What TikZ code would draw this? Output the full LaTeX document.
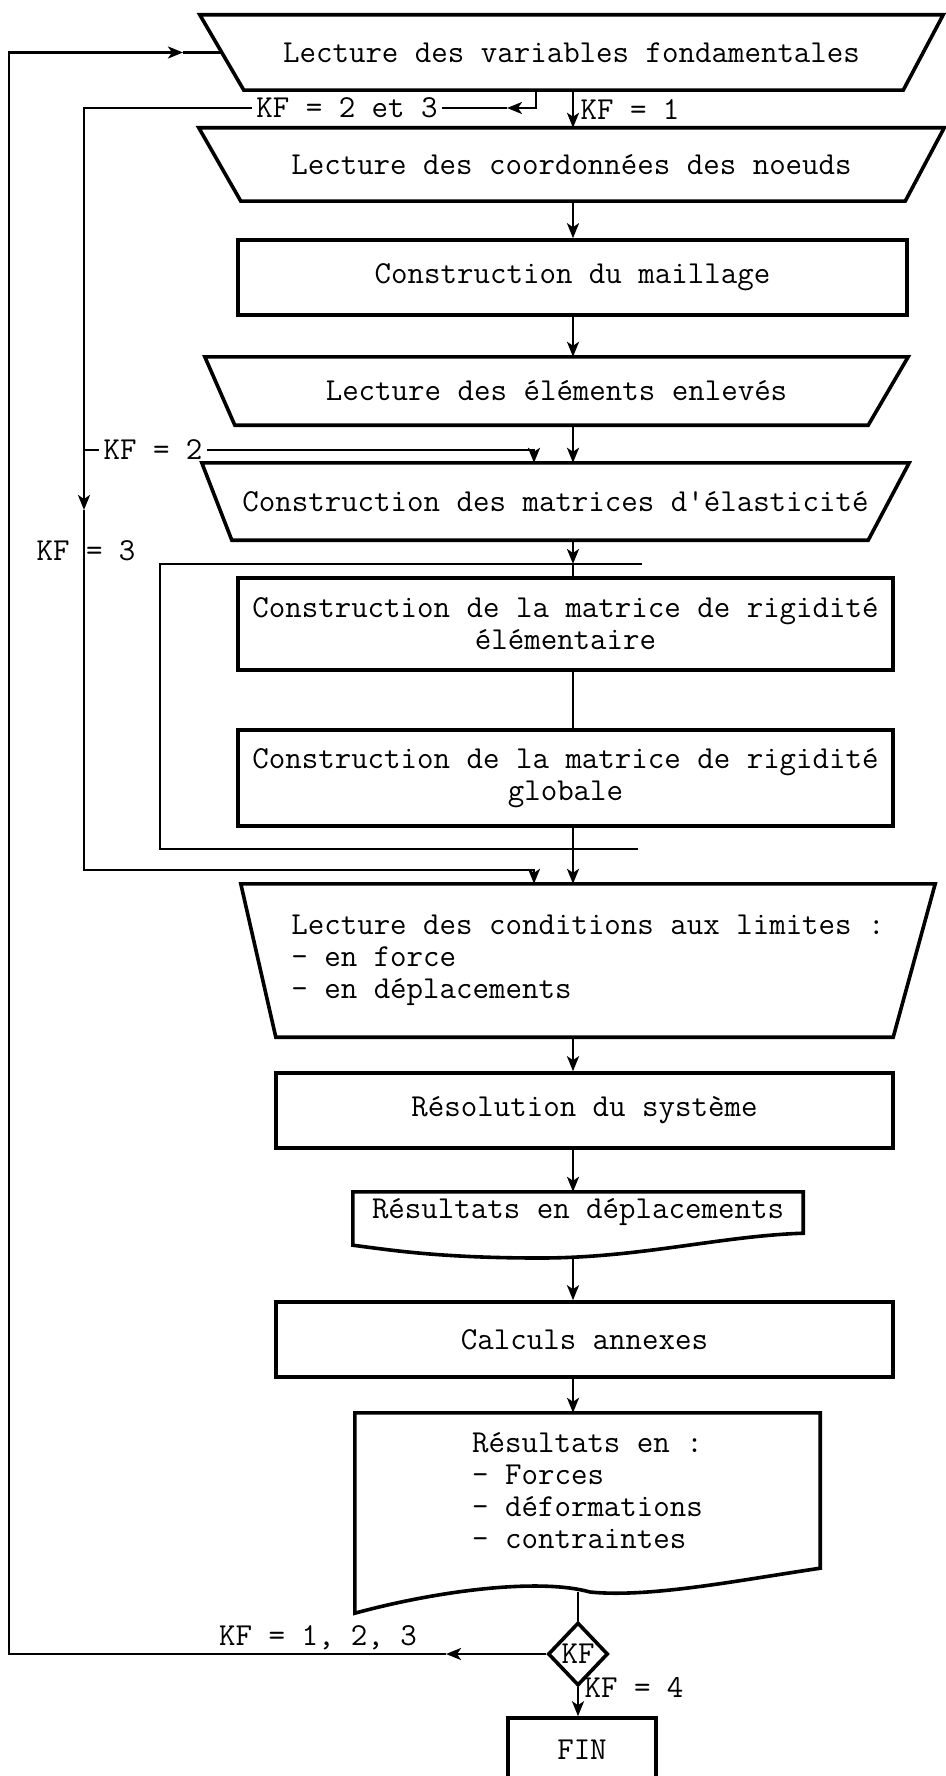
\documentclass[tikz,border=0pt]{standalone}
\usepackage{fontspec}
\usetikzlibrary{shapes.geometric,arrows.meta,calc}

\begin{document}
\begin{tikzpicture}[x=1pt,y=-1pt,
    font=\ttfamily\fontsize{32}{32}\selectfont,
    boite/.style={draw,line width=3.6pt,inner sep=3pt},
    lecture/.style={rectangle,inner sep=3pt},
    rect/.style={boite,rectangle,align=center},
    doc/.style={rectangle,inner sep=3pt},
    trait/.style={line width=2.6pt},
    fleche/.style={trait,-{Stealth[length=15pt,width=12pt,inset=4pt]}},
    etiq/.style={inner sep=4pt}]
  \path[use as bounding box,fill=white] (0,0) rectangle (945,1776);
  \coordinate (axe) at (573,0);

  \node[lecture,minimum width=743pt,minimum height=75pt] (T1) at (571.5,52.5) {Lecture des variables fondamentales};
  \node[lecture,minimum width=745pt,minimum height=73pt] (T2) at (571.5,164.5) {Lecture des coordonnées des noeuds};
  \node[rect,minimum width=669pt,minimum height=75pt] (R1) at (572.5,277.5) {Construction du maillage};
  \node[lecture,minimum width=703pt,minimum height=68pt] (T3) at (556.5,391) {Lecture des éléments enlevés};
  \node[lecture,minimum width=707pt,minimum height=77pt] (T4) at (555.5,501.5) {Construction des matrices d'élasticité};
  \node[rect,minimum width=655pt,minimum height=92pt] (R2) at (565.5,624) {Construction de la matrice de rigidité\\élémentaire};
  \node[rect,minimum width=655pt,minimum height=96pt] (R3) at (565.5,778) {Construction de la matrice de rigidité\\globale};
  \node[lecture,align=left,minimum width=694pt,minimum height=153pt] (T5) at (588,960.5) {Lecture des conditions aux limites :\\- en force\\- en déplacements};
  \node[rect,minimum width=617pt,minimum height=75pt] (R4) at (584.5,1110.5) {Résolution du système};
  \node[doc,minimum width=450pt,minimum height=41pt] (D1) at (578,1212.5) {Résultats en déplacements};
  \node[rect,minimum width=617pt,minimum height=75pt] (R5) at (584.5,1339.5) {Calculs annexes};
  \node[doc,align=left,minimum width=465pt,minimum height=155pt] (D2) at (587.5,1490.5) {Résultats en :\\- Forces\\- déformations\\- contraintes};
  \node[boite,diamond,inner sep=0pt,minimum width=60pt,minimum height=63pt] (test) at (578,1654) {KF};
  \node[rect,minimum width=148pt,minimum height=64pt] (FIN) at (582,1750) {FIN};

  \foreach \t/\g/\d in {T1/44/40,T2/42/39,T3/30/40,T4/30/41,T5/35/42}
    \draw[boite] (\t.north west) -- (\t.north east) -- ($(\t.south east)+(-\d,0)$) -- ($(\t.south west)+(\g,0)$) -- cycle;
  \draw[boite] (D1.north west) -- (D1.north east) -- (D1.south east) .. controls (720,1236) and (640,1258) .. (540,1258) .. controls (440,1258) and (390,1250) .. ($(D1.south west)+(0,12)$) -- cycle;
  \draw[boite] (D2.north west) -- (D2.north east) -- (D2.south east) .. controls (740,1580) and (650,1598) .. (590,1592) .. controls (540,1578) and (440,1590) .. ($(D2.south west)+(0,45)$) -- cycle;
  \coordinate (T1g) at ($(T1.west)+(22,0)$);
  \coordinate (D1bas) at ($(D1.south)+(0,24)$);
  \coordinate (D2bas) at ($(D2.south)+(0,24)$);

  \node[etiq] (kfun) at (630,110) {KF = 1};
  \node[etiq] (kfdt) at (347,108) {KF = 2 et 3};
  \node[etiq] (kfdeux) at (153,450) {KF = 2};
  \node[etiq] (kftrois) at (86,551) {KF = 3};
  \node[etiq] (kfudt) at (318,1638) {KF = 1, 2, 3};
  \node[etiq] (kfquatre) at (634,1687) {KF = 4};

  \coordinate (bouclehd) at (642,564);
  \coordinate (bouclehg) at (160,564);
  \coordinate (bouclebg) at (160,849);
  \coordinate (bouclebd) at (638,849);
  \coordinate (brA) at (536,108);
  \coordinate (brApointe) at (507,108);
  \coordinate (brB) at (84,108);
  \coordinate (brFourche) at (84,450);
  \coordinate (brPointe) at (84,510);
  \coordinate (brC) at (84,870);
  \coordinate (brD) at (534,870);
  \coordinate (brE) at (534,450);
  \coordinate (retPointe) at (446,1654);
  \coordinate (retCoin) at (9,1654);
  \coordinate (hautPointe) at (183,52.5);

  \begin{scope}[fleche]
    \draw (T1.south -| axe) -- (T2.north -| axe);
    \draw (T2.south -| axe) -- (R1.north -| axe);
    \draw (R1.south -| axe) -- (T3.north -| axe);
    \draw (T3.south -| axe) -- (T4.north -| axe);
    \draw (T4.south -| axe) -- (bouclehd -| axe);
    \draw (R3.south -| axe) -- (T5.north -| axe);
    \draw (T5.south -| axe) -- (R4.north -| axe);
    \draw (R4.south -| axe) -- (D1.north -| axe);
    \draw (D1bas -| axe) -- (R5.north -| axe);
    \draw (R5.south -| axe) -- (D2.north -| axe);
    \draw (test.south) -- (FIN.north -| test.south);
    \draw (T1.south -| brA) -- (brA) -- (brApointe);
    \draw (kfdt.west) -- (brB) -- (brPointe);
    \draw (brPointe) -- (brC) -- (brD) -- (T5.north -| brD);
    \draw (kfdeux.east) -- (brE) -- (T4.north -| brE);
    \draw (test.west) -- (retPointe);
    \draw (retPointe) -- (retCoin) |- (hautPointe);
  \end{scope}
  \begin{scope}[trait]
    \draw (bouclehd -| axe) -- (R2.north -| axe);
    \draw (R2.south -| axe) -- (R3.north -| axe);
    \draw (D2bas -| test.north) -- (test.north);
    \draw (bouclehd) -- (bouclehg) -- (bouclebg) -- (bouclebd);
    \draw (brApointe) -- (kfdt.east);
    \draw (brFourche) -- (kfdeux.west);
    \draw (hautPointe) -- (T1g);
  \end{scope}
\end{tikzpicture}
\end{document}
